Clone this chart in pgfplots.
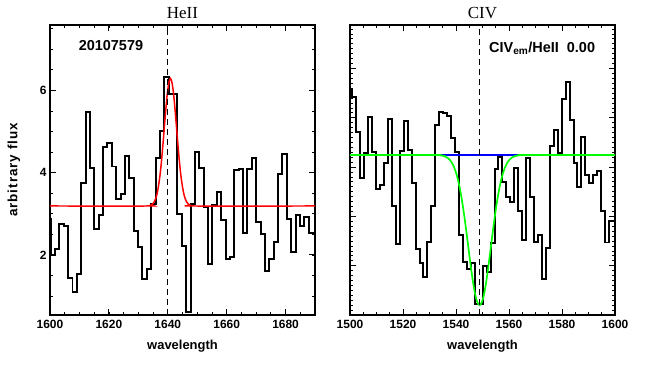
\documentclass[border=0pt]{standalone}
\usepackage{fontspec}
\setmainfont{Liberation Sans}
\newfontfamily\serif{Liberation Serif}
\usepackage{pgfplots}
\pgfplotsset{compat=1.18}
\definecolor{pgreen}{RGB}{0,255,0}
\definecolor{pblue}{RGB}{0,0,255}
\definecolor{pred}{RGB}{255,0,0}
\pgfplotsset{
  myax/.style={
    scale only axis, width=265bp, height=290bp,
    axis line style={line width=1.5pt},
    tick align=inside,
    major tick length=6bp, minor tick length=3bp,
    every tick/.style={black, line width=0.9pt},
    every minor tick/.style={black, line width=0.7pt},
    tick label style={font=\fontsize{12}{14}\selectfont\bfseries},
    xticklabel style={yshift=-2bp},
    label style={font=\fontsize{13}{15}\selectfont\bfseries},
    xlabel style={yshift=-4bp},
    /pgf/number format/assume math mode=true,
    /pgf/number format/1000 sep={},
    xlabel={wavelength},
    title style={font=\serif\fontsize{17}{19}\selectfont, yshift=-3bp},
    clip=true,
  }
}
\begin{document}
\begin{tikzpicture}
\path[use as bounding box] (0,0) rectangle (664bp,369bp);
% ---------------- left panel: HeII
\begin{axis}[myax, at={(50bp,54bp)}, anchor=south west,
  xmin=1600, xmax=1690, ymin=0.54, ymax=7.59,
  xtick={1600,1620,1640,1660,1680}, minor xtick={1605,1610,...,1690},
  ytick={2,4,6}, minor ytick={0.5,1,...,7.5},
  ylabel={arbitrary flux},
  ylabel style={at={(axis description cs:-0.136,0.5)}, anchor=center,
    font=\fontsize{13.5}{15}\selectfont\bfseries\addfontfeatures{LetterSpace=7}},
  title={HeII}]
\addplot[const plot, black, line width=2pt] coordinates {
(1598.73,2.87) (1600.22,2.00) (1601.70,2.15) (1603.19,2.75) (1604.67,2.71)
(1606.16,1.45) (1607.64,1.11) (1609.13,1.53) (1610.61,3.76) (1612.10,5.47)
(1613.58,4.11) (1615.07,2.63) (1616.55,2.97) (1618.04,4.62) (1619.52,4.71)
(1621.01,4.15) (1622.49,3.35) (1623.98,3.47) (1625.46,4.41) (1626.95,3.86)
(1628.43,2.58) (1629.92,2.20) (1631.40,1.42) (1632.89,1.65) (1634.37,3.23)
(1635.86,4.35) (1637.34,5.02) (1638.83,6.32) (1640.31,5.92) (1641.80,5.92)
(1643.28,3.00) (1644.77,2.22) (1646.25,0.62) (1647.74,3.24) (1649.22,4.51)
(1650.71,4.11) (1652.19,3.17) (1653.68,1.77) (1655.16,3.22) (1656.65,3.52)
(1658.13,2.85) (1659.62,1.90) (1661.10,1.96) (1662.59,4.07) (1664.07,4.10)
(1665.56,2.53) (1667.04,4.09) (1668.53,4.35) (1670.01,2.79) (1671.50,2.51)
(1672.98,1.62) (1674.47,1.90) (1675.95,2.32) (1677.44,3.97) (1678.92,4.45)
(1680.41,2.87) (1681.89,2.08) (1683.38,2.97) (1684.86,2.71) (1686.35,2.93)
(1687.83,2.53) (1689.32,2.53) (1690.80,2.53)};
\addplot[pred, line width=1.5pt, smooth] coordinates {
(1600,3.19) (1633.4,3.19) (1633.9,3.20) (1634.4,3.22) (1634.9,3.24) (1635.4,3.29)
(1635.9,3.37) (1636.4,3.50) (1636.9,3.70) (1637.4,3.96) (1637.9,4.31)
(1638.4,4.72) (1638.9,5.16) (1639.4,5.59) (1639.9,5.96) (1640.4,6.20)
(1640.9,6.29) (1641.4,6.20) (1641.9,5.96) (1642.4,5.59) (1642.9,5.16)
(1643.4,4.72) (1643.9,4.31) (1644.4,3.96) (1644.9,3.70) (1645.4,3.50)
(1645.9,3.37) (1646.4,3.29) (1646.9,3.24) (1647.4,3.22) (1647.9,3.20)
(1648.4,3.19) (1690,3.19)};
\addplot[black, line width=1.2pt, dash pattern=on 6bp off 4bp] coordinates {(1640,0.54) (1640,7.59)};
\node[font=\fontsize{14.5}{16}\selectfont\bfseries] at (rel axis cs:0.23,0.928) {20107579};
\end{axis}
% ---------------- right panel: CIV
\begin{axis}[myax, at={(350bp,54bp)}, anchor=south west,
  xmin=1500, xmax=1600, ymin=0, ymax=5.88,
  xtick={1500,1520,...,1600}, minor xtick={1505,1510,...,1595},
  ytick={0,1,2,3,4,5}, yticklabels={}, minor ytick={0.1,0.2,...,5.85},
  title={CIV}]
\addplot[const plot, black, line width=2pt] coordinates {
(1499.41,4.56) (1500.90,4.43) (1502.39,3.72) (1503.88,2.77) (1505.37,3.28)
(1506.86,4.01) (1508.35,3.31) (1509.84,2.55) (1511.33,2.64) (1512.82,3.09)
(1514.31,3.97) (1515.80,2.22) (1517.29,1.43) (1518.78,3.33) (1520.27,3.94)
(1521.76,3.35) (1523.25,2.68) (1524.74,1.34) (1526.23,1.06) (1527.72,0.78)
(1529.21,1.49) (1530.70,2.22) (1532.19,3.85) (1533.68,4.12) (1535.17,4.10)
(1536.66,4.04) (1538.15,3.58) (1539.64,3.30) (1541.13,1.62) (1542.62,1.08)
(1544.11,0.93) (1545.60,1.05) (1547.09,0.22) (1548.58,0.22) (1550.07,0.99)
(1551.56,0.88) (1553.05,1.45) (1554.54,2.97) (1556.03,3.21) (1557.52,2.70)
(1559.01,2.40) (1560.50,2.30) (1561.99,2.99) (1563.48,2.11) (1564.97,1.52)
(1566.46,3.18) (1567.95,2.40) (1569.44,1.49) (1570.93,1.62) (1572.42,0.72)
(1573.91,1.35) (1575.40,3.43) (1576.89,3.75) (1578.38,3.29) (1579.87,4.38)
(1581.36,4.73) (1582.85,3.96) (1584.34,3.09) (1585.83,2.60) (1587.32,3.60)
(1588.81,2.84) (1590.30,2.68) (1591.79,2.84) (1593.28,2.92) (1594.77,2.10)
(1596.26,1.47) (1597.75,1.90) (1599.24,1.90) (1600.73,1.90)};
\addplot[pblue, line width=1.3pt] coordinates {(1500,3.245) (1600,3.245)};
\addplot[pgreen, line width=1.7pt, smooth] coordinates {
(1500,3.245) (1531.9,3.245) (1532.9,3.242) (1533.9,3.238) (1534.9,3.230)
(1535.9,3.213) (1536.4,3.200) (1536.9,3.183) (1537.4,3.160) (1537.9,3.129)
(1538.4,3.091) (1538.9,3.041) (1539.4,2.980) (1539.9,2.904) (1540.4,2.813)
(1540.9,2.705) (1541.4,2.580) (1541.9,2.436) (1542.4,2.274) (1542.9,2.095)
(1543.4,1.901) (1543.9,1.696) (1544.4,1.484) (1544.9,1.269) (1545.4,1.059)
(1545.9,0.858) (1546.4,0.673) (1546.9,0.512) (1547.4,0.380) (1547.9,0.281)
(1548.4,0.221) (1548.9,0.200) (1549.4,0.221) (1549.9,0.281) (1550.4,0.380)
(1550.9,0.512) (1551.4,0.673) (1551.9,0.858) (1552.4,1.059) (1552.9,1.269)
(1553.4,1.484) (1553.9,1.696) (1554.4,1.901) (1554.9,2.095) (1555.4,2.274)
(1555.9,2.436) (1556.4,2.580) (1556.9,2.705) (1557.4,2.813) (1557.9,2.904)
(1558.4,2.980) (1558.9,3.041) (1559.4,3.091) (1559.9,3.129) (1560.4,3.160)
(1560.9,3.183) (1561.4,3.200) (1561.9,3.213) (1562.9,3.230) (1563.9,3.238)
(1564.9,3.242) (1565.9,3.245) (1600,3.245)};
\addplot[black, line width=1.2pt, dash pattern=on 6bp off 4bp] coordinates {(1548.8,0) (1548.8,5.88)};
\node[font=\fontsize{14.5}{16}\selectfont\bfseries] at (rel axis cs:0.725,0.921) {CIV\textsubscript{em}/HeII\ \ 0.00};
\end{axis}
\end{tikzpicture}
\end{document}
